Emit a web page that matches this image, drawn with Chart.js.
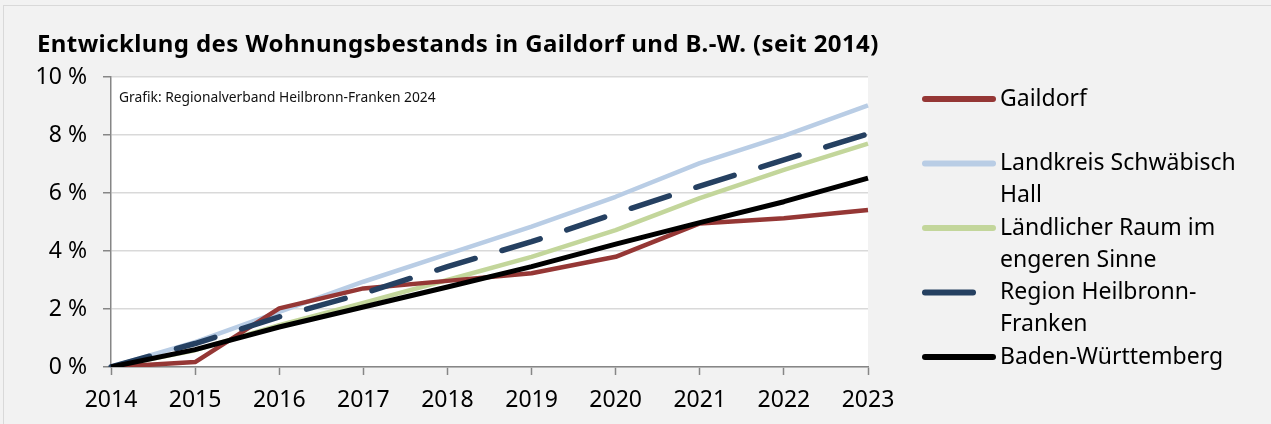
<!DOCTYPE html>
<html>
<head>
<meta charset="utf-8">
<script src="https://cdn.jsdelivr.net/npm/chart.js@4.4.1/dist/chart.umd.min.js"></script>
<style>
  html, body { margin: 0; padding: 0; background: #f2f2f2; }
  #frame { position: absolute; left: 3px; top: 5px; width: 1280px; height: 430px;
           border-left: 1px solid #d9d9d9; border-top: 1px solid #d9d9d9; }
  #c { position: absolute; left: 0; top: 0; }
</style>
</head>
<body>
<div id="frame"></div>
<canvas id="c" width="1271" height="424"></canvas>
<script>
// Daten (Veränderung gegenüber 2014 in %)
const years = ["2014","2015","2016","2017","2018","2019","2020","2021","2022","2023"];
const gaildorf   = [0, 0.17, 2.02, 2.71, 2.97, 3.23, 3.80, 4.95, 5.13, 5.41];
const landkreis  = [0, 0.86, 1.90, 2.94, 3.89, 4.84, 5.87, 7.03, 7.97, 9.02];
const laendlich  = [0, 0.58, 1.44, 2.21, 3.00, 3.80, 4.72, 5.82, 6.80, 7.70];
const regionHNF  = [0, 0.81, 1.73, 2.54, 3.46, 4.32, 5.30, 6.24, 7.14, 8.04];
const bawue      = [0, 0.60, 1.38, 2.07, 2.76, 3.46, 4.24, 4.98, 5.70, 6.51];
const yTicks = [0, 2, 4, 6, 8, 10];

const seriesNames = ["Gaildorf", "Landkreis Schwäbisch Hall", "Ländlicher Raum im engeren Sinne", "Region Heilbronn-Franken", "Baden-Württemberg"];
const legendLines = [["Gaildorf"], ["Landkreis Schwäbisch", "Hall"], ["Ländlicher Raum im", "engeren Sinne"], ["Region Heilbronn-", "Franken"], ["Baden-Württemberg"]];
const title = "Entwicklung des Wohnungsbestands in Gaildorf und B.-W. (seit 2014)";
const source = "Grafik: Regionalverband Heilbronn-Franken 2024";

const FONT = "'Noto Sans', 'Open Sans', sans-serif";

const bgPlugin = {
  id: 'bg',
  beforeDraw(chart) {
    const { ctx, chartArea: a } = chart;
    ctx.save();
    ctx.fillStyle = '#ffffff';
    ctx.fillRect(a.left, a.top, a.right - a.left, a.bottom - a.top);
    ctx.restore();
  },
  afterDraw(chart) {
    const { ctx, chartArea: a } = chart;
    ctx.save();
    // Titel
    ctx.fillStyle = '#000';
    ctx.textBaseline = 'alphabetic';
    ctx.font = "bold 24px " + FONT;
    ctx.letterSpacing = '0.4px';
    ctx.fillText(title, 37, 52);
    ctx.letterSpacing = '0px';
    // Quelle
    ctx.font = "13.8px " + FONT;
    ctx.fillStyle = '#111';
    ctx.fillText(source, a.left + 8, 102);
    // Legende
    ctx.font = "23px " + FONT;
    ctx.textBaseline = 'middle';
    chart.data.datasets.forEach((ds, i) => {
      const y = 99 + 64.5 * i;
      ctx.strokeStyle = ds.borderColor;
      ctx.lineWidth = 6;
      ctx.lineCap = 'round';
      ctx.beginPath();
      ctx.moveTo(925, y);
      ctx.lineTo(ds.borderDash.length ? 973 : 993, y);
      ctx.stroke();
      ctx.fillStyle = '#000';
      legendLines[i].forEach((t, j) => ctx.fillText(t, 1000, y + 32.3 * j));
    });
    ctx.restore();
  }
};

new Chart(document.getElementById('c'), {
  type: 'line',
  data: {
    labels: years,
    datasets: [
      { label: seriesNames[0], data: gaildorf,  borderColor: '#953735', borderWidth: 4.5, borderDash: [], order: 2 },
      { label: seriesNames[1], data: landkreis, borderColor: '#b9cde5', borderWidth: 4.5, borderDash: [], order: 4 },
      { label: seriesNames[2], data: laendlich, borderColor: '#c3d69b', borderWidth: 4.5, borderDash: [], order: 3 },
      { label: seriesNames[3], data: regionHNF, borderColor: '#254061', borderWidth: 5.5, borderDash: [40, 28], borderCapStyle: 'round', order: 1 },
      { label: seriesNames[4], data: bawue,     borderColor: '#000000', borderWidth: 5, borderDash: [], order: 0 }
    ].map(d => Object.assign({ pointRadius: 0, tension: 0, fill: false, borderJoinStyle: 'round' }, d))
  },
  options: {
    responsive: false,
    animation: false,
    layout: { padding: { left: 0, right: 403, top: 77, bottom: 0 } },
    plugins: { legend: { display: false }, tooltip: { enabled: false } },
    scales: {
      x: {
        offset: false,
        grid: { drawOnChartArea: false, drawTicks: true, tickLength: 8, tickColor: '#868686', tickWidth: 1.5 },
        border: { color: '#868686', width: 1.5 },
        ticks: { color: '#000', font: { family: FONT, size: 23 }, padding: 12, maxRotation: 0, autoSkip: false },
        afterFit(s) { s.height = 57; }
      },
      y: {
        min: 0, max: 10,
        afterBuildTicks(s) { s.ticks = yTicks.map(v => ({ value: v })); },
        grid: { color: '#d9d9d9', lineWidth: 1.5, tickLength: 8, tickColor: '#868686', tickWidth: 1.5 },
        border: { color: '#868686', width: 1.5 },
        ticks: { color: '#000', font: { family: FONT, size: 23 }, padding: 16, callback: v => v + ' %' },
        afterFit(s) { s.width = 111; }
      }
    }
  },
  plugins: [bgPlugin]
});
</script>
</body>
</html>
